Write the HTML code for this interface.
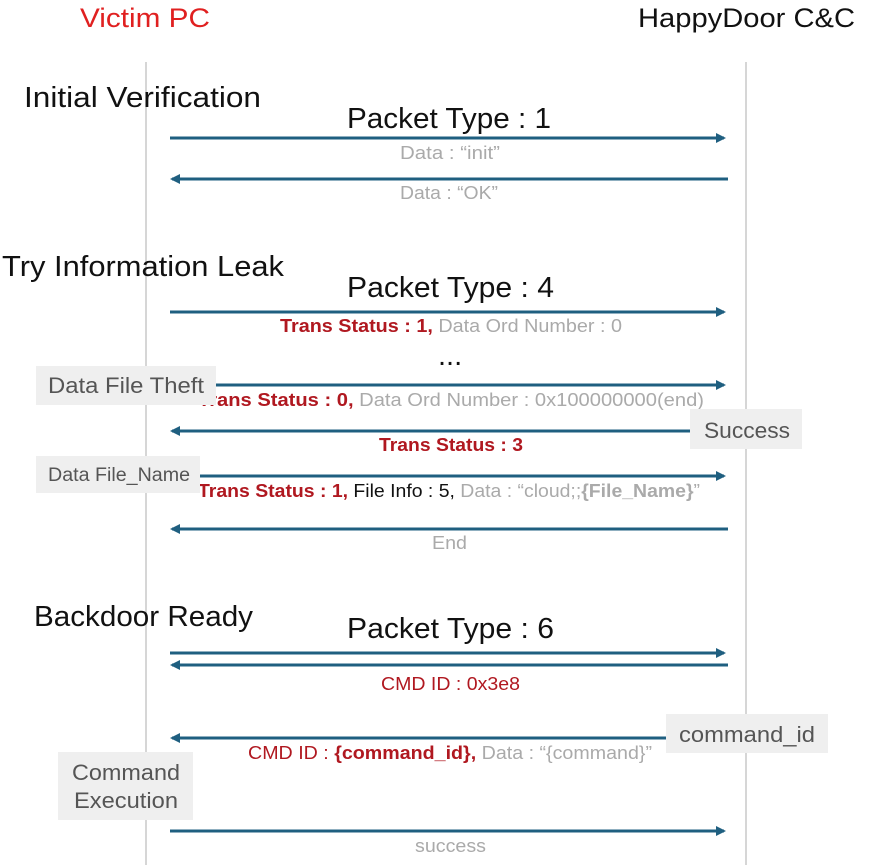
<!DOCTYPE html>
<html><head><meta charset="utf-8"><style>
html,body{margin:0;padding:0;background:#fff;width:873px;height:865px;overflow:hidden}
text{font-family:"Liberation Sans","Noto Sans CJK KR",sans-serif}
</style></head><body>
<svg width="873" height="865" viewBox="0 0 873 865" xmlns="http://www.w3.org/2000/svg">
<defs>
<marker id="ah" markerWidth="10" markerHeight="10" refX="8" refY="5" orient="auto" markerUnits="userSpaceOnUse">
<path d="M0,0 L10,5 L0,10 z" fill="#1f5f80"/></marker>
</defs>
<line x1="146" y1="62" x2="146" y2="865" stroke="#c8c8c8" stroke-width="1.5"/>
<line x1="746" y1="62" x2="746" y2="865" stroke="#c8c8c8" stroke-width="1.5"/>
<text x="80" y="27" font-size="27" fill="#e02020" textLength="130" lengthAdjust="spacingAndGlyphs">Victim PC</text>
<text x="638" y="27" font-size="27" fill="#111" textLength="217" lengthAdjust="spacingAndGlyphs">HappyDoor C&amp;C</text>
<text x="24" y="107" font-size="29" fill="#111" textLength="237" lengthAdjust="spacingAndGlyphs">Initial Verification</text>
<text x="2" y="276" font-size="29" fill="#111" textLength="282" lengthAdjust="spacingAndGlyphs">Try Information Leak</text>
<text x="34" y="626" font-size="29" fill="#111" textLength="219" lengthAdjust="spacingAndGlyphs">Backdoor Ready</text>
<g stroke="#1f5f80" stroke-width="3" fill="none">
<line x1="170" y1="138" x2="724" y2="138" marker-end="url(#ah)"/>
<line x1="728" y1="179" x2="172" y2="179" marker-end="url(#ah)"/>
<line x1="170" y1="312" x2="724" y2="312" marker-end="url(#ah)"/>
<line x1="200" y1="385" x2="724" y2="385" marker-end="url(#ah)"/>
<line x1="690" y1="431" x2="172" y2="431" marker-end="url(#ah)"/>
<line x1="200" y1="476" x2="724" y2="476" marker-end="url(#ah)"/>
<line x1="728" y1="529" x2="172" y2="529" marker-end="url(#ah)"/>
<line x1="170" y1="653" x2="724" y2="653" marker-end="url(#ah)"/>
<line x1="728" y1="665" x2="172" y2="665" marker-end="url(#ah)"/>
<line x1="668" y1="738" x2="172" y2="738" marker-end="url(#ah)"/>
<line x1="170" y1="831" x2="724" y2="831" marker-end="url(#ah)"/>
</g>
<g font-size="29" fill="#111">
<text x="347" y="128" textLength="204" lengthAdjust="spacingAndGlyphs">Packet Type : 1</text>
<text x="347" y="297" textLength="207" lengthAdjust="spacingAndGlyphs">Packet Type : 4</text>
<text x="347" y="638" textLength="207" lengthAdjust="spacingAndGlyphs">Packet Type : 6</text>
<text x="438" y="365">...</text>
</g>
<g font-size="18" fill="#aaa">
<text x="400" y="159" textLength="100" lengthAdjust="spacingAndGlyphs">Data : “init”</text>
<text x="400" y="199" textLength="98" lengthAdjust="spacingAndGlyphs">Data : “OK”</text>
<text x="432" y="549" textLength="35" lengthAdjust="spacingAndGlyphs">End</text>
<text x="415" y="852" textLength="71" lengthAdjust="spacingAndGlyphs">success</text>
</g>
<text x="280" y="332" font-size="18" textLength="342" lengthAdjust="spacingAndGlyphs"><tspan fill="#b01820" font-weight="bold">Trans Status : 1,</tspan><tspan fill="#aaa"> Data Ord Number : 0</tspan></text>
<text x="198" y="406" font-size="18" textLength="506" lengthAdjust="spacingAndGlyphs"><tspan fill="#b01820" font-weight="bold">Trans Status : 0,</tspan><tspan fill="#aaa"> Data Ord Number : 0x100000000(end)</tspan></text>
<text x="379" y="451" font-size="18" fill="#b01820" font-weight="bold" textLength="144" lengthAdjust="spacingAndGlyphs">Trans Status : 3</text>
<text x="198" y="497" font-size="18" textLength="502" lengthAdjust="spacingAndGlyphs"><tspan fill="#b01820" font-weight="bold">Trans Status : 1,</tspan><tspan fill="#111"> File Info : 5,</tspan><tspan fill="#aaa"> Data : “cloud;;</tspan><tspan fill="#aaa" font-weight="bold">{File_Name}</tspan><tspan fill="#aaa">”</tspan></text>
<text x="381" y="690" font-size="18" fill="#b01820" textLength="139" lengthAdjust="spacingAndGlyphs">CMD ID : 0x3e8</text>
<text x="248" y="759" font-size="18" textLength="404" lengthAdjust="spacingAndGlyphs"><tspan fill="#b01820">CMD ID : </tspan><tspan fill="#b01820" font-weight="bold">{command_id},</tspan><tspan fill="#aaa"> Data : “{command}”</tspan></text>
<g fill="#efefef">
<rect x="36" y="366" width="180" height="39"/>
<rect x="690" y="409" width="112" height="40"/>
<rect x="36" y="456" width="164" height="37"/>
<rect x="666" y="714" width="162" height="39"/>
<rect x="58" y="752" width="135" height="68"/>
</g>
<g fill="#555" font-size="22">
<text x="48" y="393" textLength="156" lengthAdjust="spacingAndGlyphs">Data File Theft</text>
<text x="704" y="438" textLength="86" lengthAdjust="spacingAndGlyphs">Success</text>
<text x="48" y="481" font-size="19" textLength="142" lengthAdjust="spacingAndGlyphs">Data File_Name</text>
<text x="679" y="742" textLength="136" lengthAdjust="spacingAndGlyphs">command_id</text>
<text x="72" y="780" textLength="108" lengthAdjust="spacingAndGlyphs">Command</text>
<text x="74" y="808" textLength="104" lengthAdjust="spacingAndGlyphs">Execution</text>
</g>
</svg>
</body></html>
